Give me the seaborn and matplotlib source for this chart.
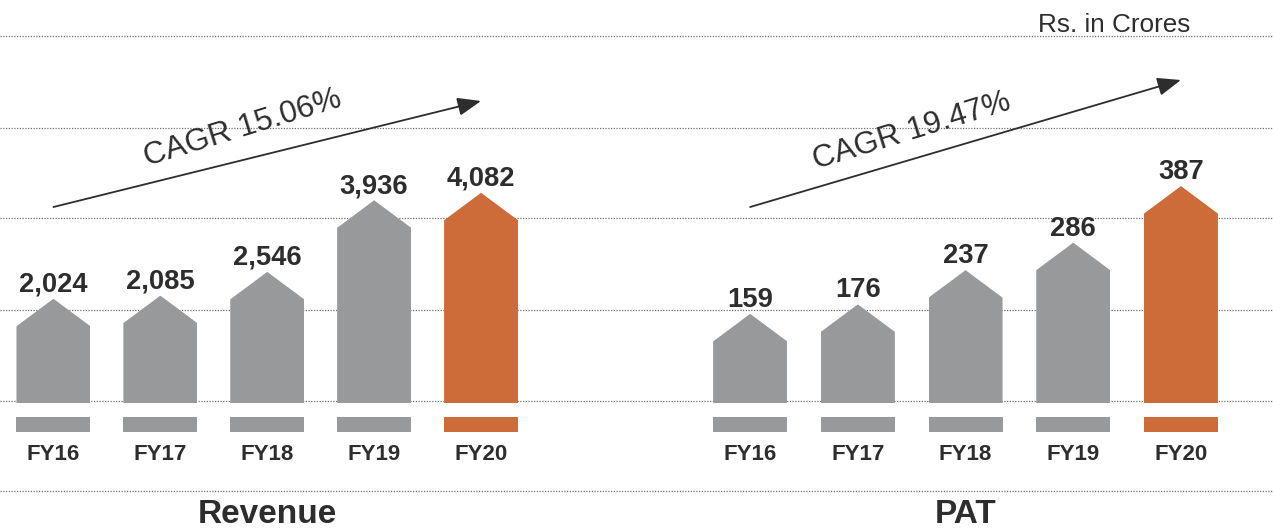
import numpy as np
import pandas as pd
import matplotlib
matplotlib.use("Agg")
import matplotlib.pyplot as plt
from matplotlib.patches import Polygon
from matplotlib.transforms import blended_transform_factory
import seaborn as sns

# ---------------- data ----------------
years = ["FY16", "FY17", "FY18", "FY19", "FY20"]
revenue = [2024, 2085, 2546, 3936, 4082]
pat = [159, 176, 237, 286, 387]
revenue_labels = ["2,024", "2,085", "2,546", "3,936", "4,082"]
pat_labels = ["159", "176", "237", "286", "387"]
panel_titles = ["Revenue", "PAT"]
cagr_labels = ["CAGR 15.06%", "CAGR 19.47%"]
unit_note = "Rs. in Crores"
strip_marker = [1, 1, 1, 1, 1]

# ---------------- style ----------------
GRAY = "#98999b"
ORANGE = "#cd6c38"
TEXT = "#2d2d2d"
palette = [GRAY, GRAY, GRAY, GRAY, ORANGE]

sns.set_style("white")
plt.rcParams["font.family"] = ["Liberation Sans", "DejaVu Sans"]

W, H = 1273, 532
fig = plt.figure(figsize=(W / 100, H / 100), dpi=100)

bg = fig.add_axes([0, 0, 1, 1], zorder=0)
bg.set_xlim(0, W)
bg.set_ylim(H, 0)
bg.axis("off")
grid_y = [36, 127.5, 218, 309.5, 400.5, 491]
bg.hlines(grid_y, 0, W, colors="#6f6f6f", linestyles=(0, (1, 1.2)), linewidth=0.9)

BASE = 403      # baseline pixel (from top)
TIP = 27.5      # pentagon tip height in px

panels = [
    dict(values=revenue, labels=revenue_labels, title=panel_titles[0], cagr=cagr_labels[0],
         left=0.0, width=534.5, barw=0.692, ppu=0.0515,
         arrow=(207, 101), cagr_pos=(1.77, 128)),
    dict(values=pat, labels=pat_labels, title=panel_titles[1], cagr=cagr_labels[1],
         left=696.3, width=538.5, barw=0.687, ppu=0.5605,
         arrow=(207, 80), cagr_pos=(1.50, 131)),
]

for P in panels:
    ymax = BASE / P["ppu"]
    ax = fig.add_axes([P["left"] / W, (H - BASE) / H, P["width"] / W, BASE / H], zorder=2)
    df = pd.DataFrame({"year": years, "value": P["values"]})
    sns.barplot(data=df, x="year", y="value", hue="year", palette=palette,
                width=P["barw"], linewidth=0, saturation=1, legend=False, ax=ax)
    ax.set_xlim(-0.5, 4.5)
    ax.set_ylim(0, ymax)
    ax.axis("off")
    tip = TIP / P["ppu"]
    for p, lbl in zip(ax.patches, P["labels"]):
        x0, w, h = p.get_x(), p.get_width(), p.get_height()
        poly = Polygon([(x0, 0), (x0 + w, 0), (x0 + w, h - tip), (x0 + w / 2, h), (x0, h - tip)],
                       closed=True, transform=ax.transData)
        p.set_clip_path(poly)
        ax.annotate(lbl, xy=(x0 + w / 2, h), xytext=(0, 5), textcoords="offset points",
                    ha="center", va="baseline", fontsize=19.7, fontweight="bold", color=TEXT)

    # strip under bars
    sax = fig.add_axes([P["left"] / W, 100.3 / H, P["width"] / W, 14.7 / H], zorder=2)
    sdf = pd.DataFrame({"year": years, "m": strip_marker})
    sns.barplot(data=sdf, x="year", y="m", hue="year", palette=palette,
                width=P["barw"], linewidth=0, saturation=1, legend=False, ax=sax)
    sax.set_xlim(-0.5, 4.5)
    sax.set_ylim(0, 1)
    sax.set_facecolor("none")
    for s in sax.spines.values():
        s.set_visible(False)
    sax.set_yticks([])
    sax.set_ylabel("")
    sax.set_xlabel("")
    sax.tick_params(axis="x", length=0, pad=8.8, labelsize=16, labelcolor=TEXT)
    for t in sax.get_xticklabels():
        t.set_fontweight("bold")

    # title
    cx = (P["left"] + P["width"] / 2) / W
    fig.text(cx, (H - 523) / H, P["title"], ha="center", va="baseline",
             fontsize=24, fontweight="bold", color=TEXT)

    # CAGR arrow
    trans = blended_transform_factory(ax.transData, bg.transData)
    bg.annotate("", xy=(4, P["arrow"][1]), xycoords=trans,
                xytext=(0, P["arrow"][0]), textcoords=trans,
                arrowprops=dict(arrowstyle="-|>,head_length=0.72,head_width=0.28",
                                color=TEXT, lw=1.3, shrinkA=0, shrinkB=0, mutation_scale=20),
                annotation_clip=False)
    bg.text(P["cagr_pos"][0], P["cagr_pos"][1], P["cagr"], transform=trans,
            rotation=17, rotation_mode="anchor", ha="center", va="center",
            fontsize=22.5, color=TEXT)

bg.text(1114, 32, unit_note, ha="center", va="baseline", fontsize=18.8, color=TEXT)

fig.savefig("out.png", dpi=100)
